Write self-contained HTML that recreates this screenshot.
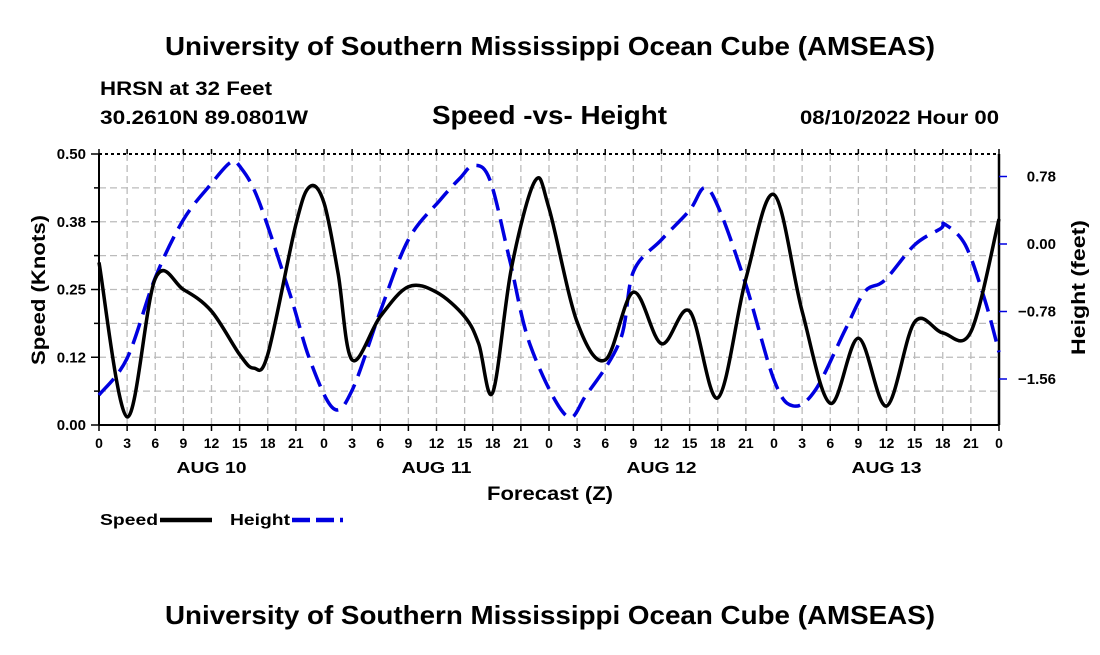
<!DOCTYPE html>
<html><head><meta charset="utf-8">
<style>
html,body{margin:0;padding:0;background:#fff;}
svg text{font-family:"Liberation Sans",sans-serif;font-weight:bold;fill:#000;}
</style></head>
<body>
<svg id="chart" width="1100" height="650" xmlns="http://www.w3.org/2000/svg">
<text x="165" y="55" font-size="26" textLength="770" lengthAdjust="spacingAndGlyphs">University of Southern Mississippi Ocean Cube (AMSEAS)</text>
<text x="100" y="95" font-size="19" textLength="172" lengthAdjust="spacingAndGlyphs">HRSN at 32 Feet</text>
<text x="100" y="124" font-size="19" textLength="208" lengthAdjust="spacingAndGlyphs">30.2610N  89.0801W</text>
<text x="432" y="124" font-size="26" textLength="235" lengthAdjust="spacingAndGlyphs">Speed -vs- Height</text>
<text x="800" y="124" font-size="19" textLength="199" lengthAdjust="spacingAndGlyphs">08/10/2022 Hour 00</text>
<g id="grid"></g>
<g id="axes"></g>
<g id="series"></g>
<text x="487" y="500" font-size="19" textLength="126" lengthAdjust="spacingAndGlyphs">Forecast (Z)</text>
<text transform="translate(45,365) rotate(-90)" font-size="19" textLength="150" lengthAdjust="spacingAndGlyphs">Speed (Knots)</text>
<text transform="translate(1085,355) rotate(-90)" font-size="19" textLength="135" lengthAdjust="spacingAndGlyphs">Height (feet)</text>
<g>
<text x="100" y="525" font-size="16" textLength="58" lengthAdjust="spacingAndGlyphs">Speed</text>
<line x1="160" y1="520" x2="212" y2="520" stroke="#000" stroke-width="4.5"/>
<text x="230" y="525" font-size="16" textLength="60" lengthAdjust="spacingAndGlyphs">Height</text>
<line x1="292" y1="520" x2="343" y2="520" stroke="#0000e0" stroke-width="4.5" stroke-dasharray="18,6"/>
</g>
<text x="165" y="624" font-size="26" textLength="770" lengthAdjust="spacingAndGlyphs">University of Southern Mississippi Ocean Cube (AMSEAS)</text>
</svg>
<script>
const speedHours=[0,3,6,9,12,15,16.5,18,21,22.5,24,25.5,27,30,33,36,39,40.5,42,44,46.5,48,51,54,57,60,63,66,69,72,75,78,81,84,87,90,93,96];
const speedValues=[0.30,0.015,0.27,0.25,0.21,0.13,0.105,0.13,0.37,0.44,0.41,0.28,0.12,0.20,0.255,0.245,0.20,0.15,0.06,0.29,0.45,0.40,0.19,0.12,0.245,0.15,0.21,0.05,0.27,0.425,0.21,0.04,0.16,0.035,0.19,0.17,0.172,0.38];
const heightHours=[0,3,6,9,12,14,15,17,20.4,22.5,25,27,30,33,36.4,38.5,40,41.7,43.8,46,49.8,52,55.6,57,60,63,64.6,66.2,69,72,74,76.4,79.6,81.7,83.8,87,89.8,90.2,92.4,94.5,96];
const heightValues=[-1.745,-1.32,-0.39,0.28,0.70,0.94,0.90,0.51,-0.59,-1.34,-1.9,-1.69,-0.78,0.05,0.51,0.76,0.91,0.74,-0.18,-1.17,-1.98,-1.74,-1.11,-0.32,0.05,0.39,0.65,0.39,-0.47,-1.57,-1.87,-1.69,-0.99,-0.55,-0.42,-0.01,0.18,0.23,-0.01,-0.65,-1.25];
const hourTickLabels=["0","3","6","9","12","15","18","21","0","3","6","9","12","15","18","21","0","3","6","9","12","15","18","21","0","3","6","9","12","15","18","21","0"];
const dayLabels=["AUG 10","AUG 11","AUG 12","AUG 13"];
const speedTickLabels=["0.00","0.12","0.25","0.38","0.50"];
const speedTickValues=[0,0.125,0.25,0.375,0.5];
const heightTickLabels=["-1.56","-0.78","0.00","0.78"];
const heightTickValues=[-1.56,-0.78,0,0.78];

const X0=99,X1=999,Y0=425,Y1=154;
const xs=h=>X0+(X1-X0)*h/96;
const ys=v=>Y0-(Y0-Y1)*v/0.5;
const yh=v=>244-v/0.78*67.5;
const NS="http://www.w3.org/2000/svg";
function mk(tag,attrs,parent){const e=document.createElementNS(NS,tag);for(const k in attrs)e.setAttribute(k,attrs[k]);parent.appendChild(e);return e;}
const grid=document.getElementById('grid'),axes=document.getElementById('axes'),series=document.getElementById('series');
for(let i=1;i<32;i++){const l=mk('line',{x1:xs(i*3),x2:xs(i*3),y1:Y1,y2:Y0,stroke:'#bbb','stroke-width':1.3,'stroke-dasharray':'7,4'},grid);

}
for(let i=1;i<8;i++){const y=ys(i*0.0625);const l=mk('line',{x1:X0,x2:X1,y1:y,y2:y,stroke:'#bbb','stroke-width':1.3,'stroke-dasharray':'7,4'},grid);

}
mk('line',{x1:X0,x2:X0,y1:Y1,y2:Y0,stroke:'#000','stroke-width':2},axes);
mk('line',{x1:X1,x2:X1,y1:Y1,y2:Y0,stroke:'#000','stroke-width':2.5},axes);
mk('line',{x1:X0,x2:X1,y1:Y0,y2:Y0,stroke:'#000','stroke-width':2},axes);
mk('line',{x1:X0,x2:X1,y1:Y1,y2:Y1,stroke:'#000','stroke-width':2,'stroke-dasharray':'3,3'},axes);
hourTickLabels.forEach((t,i)=>{const x=xs(i*3);
mk('line',{x1:x,x2:x,y1:Y0,y2:Y0+6,stroke:'#000','stroke-width':1.5},axes);
mk('line',{x1:x,x2:x,y1:Y1,y2:Y1-5,stroke:'#000','stroke-width':1.5},axes);
const tx=mk('text',{x:x,y:448,'font-size':14,'text-anchor':'middle'},axes);tx.textContent=t;

});
dayLabels.forEach((d,i)=>{const tx=mk('text',{x:xs(12+24*i)-35,y:473,'font-size':16,textLength:70,lengthAdjust:'spacingAndGlyphs'},axes);tx.textContent=d;

});
for(let i=0;i<=8;i++){const y=ys(i*0.0625);mk('line',{x1:X0-(i%2?5:8),x2:X0,y1:y,y2:y,stroke:'#000','stroke-width':1.5},axes);}
speedTickLabels.forEach((t,i)=>{const tx=mk('text',{x:86,y:ys(speedTickValues[i])+5,'font-size':15,'text-anchor':'end'},axes);tx.textContent=t;

});
heightTickLabels.forEach((t,i)=>{const y=yh(heightTickValues[i]);
mk('line',{x1:X1,x2:X1+8,y1:y,y2:y,stroke:'#0000e0','stroke-width':1.5},axes);
const tx=mk('text',{x:1056,y:y+5,'font-size':15,'text-anchor':'end'},axes);tx.textContent=t.replace('-','\u2212');

});
function smooth(hs,vs,fy){const p=hs.map((h,i)=>[xs(h),fy(vs[i])]);let d='M'+p[0][0]+','+p[0][1];
for(let i=0;i<p.length-1;i++){const a=p[i-1]||p[i],b=p[i],c=p[i+1],e=p[i+2]||c;
d+=' C'+(b[0]+(c[0]-a[0])/6)+','+(b[1]+(c[1]-a[1])/6)+' '+(c[0]-(e[0]-b[0])/6)+','+(c[1]-(e[1]-b[1])/6)+' '+c[0]+','+c[1];}return d;}
const hp=mk('path',{d:smooth(heightHours,heightValues,yh),fill:'none',stroke:'#0000e0','stroke-width':3.5,'stroke-dasharray':'22,9'},series);


const sp=mk('path',{d:smooth(speedHours,speedValues,ys),fill:'none',stroke:'#000','stroke-width':3.5},series);


</script>
</body></html>
